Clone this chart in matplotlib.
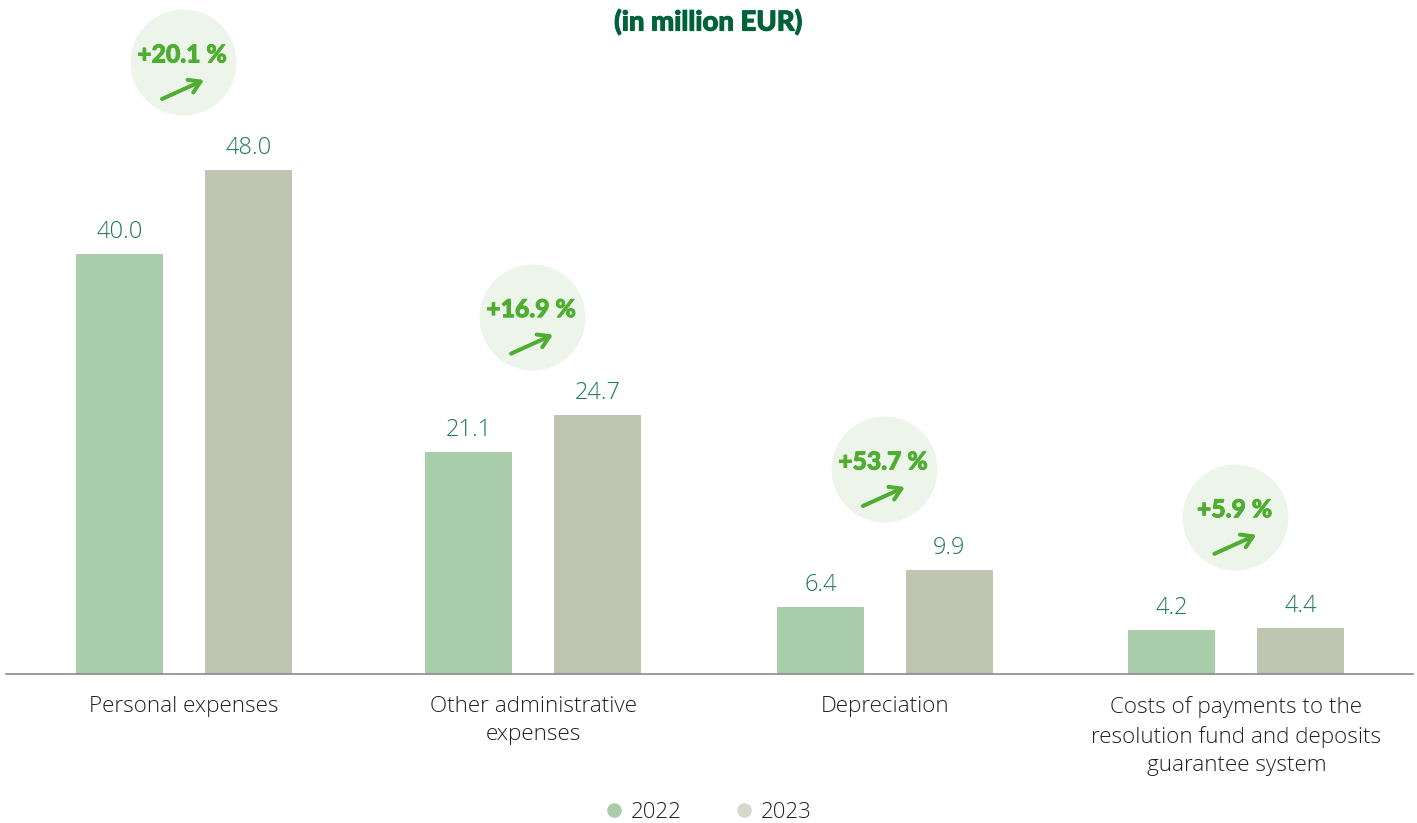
import matplotlib
matplotlib.use("Agg")
import matplotlib.pyplot as plt
import matplotlib.patheffects as pe
from matplotlib.lines import Line2D

categories = [
    "Personal expenses",
    "Other administrative\nexpenses",
    "Depreciation",
    "Costs of payments to the\nresolution fund and deposits\nguarantee system",
]
values_2022 = [40.0, 21.1, 6.4, 4.2]
values_2023 = [48.0, 24.7, 9.9, 4.4]
changes = ["+20.1 %", "+16.9 %", "+53.7 %", "+5.9 %"]
series_names = ["2022", "2023"]

# Group centres along the category axis
group_pos = [0.0, 0.995, 1.998, 3.0]
# Badge height above the taller bar of each group, in pixels
badge_lift = [108, 98, 101, 111]

W, H = 1417, 823
DPI = 100
BASE_Y = 674
PX_PER_UNIT = 10.5
PX_PER_GROUP = 350.8
FIRST_GROUP = 184
LEFT, RIGHT = 6, 1413

C_2022 = "#A9CCAB"
C_2023 = "#C0C4B2"
C_2023_KEY = "#D5D9CC"
C_VALUE = "#1F7A50"
C_TITLE = "#00623A"
C_BADGE = "#EDF5EB"
C_ACCENT = "#4FAE32"
C_TEXT = "#222222"

LIGHT = ["Open Sans", "DejaVu Sans"]
HEAVY = ["Lato", "DejaVu Sans"]

fig = plt.figure(figsize=(W / DPI, H / DPI), dpi=DPI, facecolor="white")
ax = fig.add_axes([LEFT / W, 1 - BASE_Y / H, (RIGHT - LEFT) / W, BASE_Y / H])
ax.set_xlim((LEFT - FIRST_GROUP) / PX_PER_GROUP, (RIGHT - FIRST_GROUP) / PX_PER_GROUP)
ax.set_ylim(0, BASE_Y / PX_PER_UNIT)
ax.patch.set_alpha(0)

offset = 64.5 / PX_PER_GROUP
bar_w = 87 / PX_PER_GROUP

ax.bar([x - offset for x in group_pos], values_2022, bar_w, color=C_2022)
ax.bar([x + offset for x in group_pos], values_2023, bar_w, color=C_2023)

for x, a, b in zip(group_pos, values_2022, values_2023):
    for bx, v in ((x - offset, a), (x + offset, b)):
        ax.annotate(f"{v:.1f}", xy=(bx, v), xytext=(0, 10), textcoords="offset pixels",
                    ha="center", va="bottom", fontsize=17, color=C_VALUE,
                    family=LIGHT, fontweight=300)

# Change badges: pale disc, bold percentage and a rising arrow
for x, a, b, label, lift in zip(group_pos, values_2022, values_2023, changes, badge_lift):
    cy = max(a, b) + lift / PX_PER_UNIT
    cx_px, cy_px = ax.transData.transform((x, cy))
    cx_px -= 1
    ax.scatter([cx_px], [cy_px], s=(106 * 72 / DPI) ** 2, color=C_BADGE, linewidths=0,
               zorder=2, clip_on=False, transform=None)
    badge_text = ax.annotate(label, xy=(x, cy), xytext=(-2, 7), textcoords="offset pixels",
                             ha="center", va="center", fontsize=17.8, fontweight="black",
                             color=C_ACCENT, family=HEAVY, zorder=3)
    badge_text.set_path_effects([pe.withStroke(linewidth=0.7, foreground=C_ACCENT)])
    ax.annotate("", xy=(cx_px + 21, cy_px - 18), xytext=(cx_px - 21, cy_px - 37),
                xycoords="figure pixels", textcoords="figure pixels", zorder=3,
                arrowprops=dict(arrowstyle="->,head_length=0.8,head_width=0.5", color=C_ACCENT,
                                lw=2.9, shrinkA=0, shrinkB=0, capstyle="round", joinstyle="round"))

for side in ("top", "left", "right"):
    ax.spines[side].set_visible(False)
ax.spines["bottom"].set_color("#8A8A8A")
ax.spines["bottom"].set_linewidth(1.2)
ax.set_yticks([])
ax.set_xticks(group_pos)
ax.set_xticklabels(categories, fontsize=16.2, color=C_TEXT, family=LIGHT, fontweight=300, linespacing=1.44)
ax.tick_params(axis="x", length=0, pad=16)

title = fig.text(708.5 / W, 1 - 22 / H, "(in million EUR)", ha="center", va="center",
                 fontsize=19.8, fontweight="black", color=C_TITLE, family=HEAVY)
title.set_path_effects([pe.withStroke(linewidth=0.7, foreground=C_TITLE)])

handles = [
    Line2D([], [], ls="", marker="o", ms=10.5, mew=0, color=C_2022),
    Line2D([], [], ls="", marker="o", ms=10.5, mew=0, color=C_2023_KEY),
]
fig.legend(handles, series_names, loc="center", bbox_to_anchor=(706 / W, 1 - 812 / H), ncol=2,
           frameon=False, handletextpad=0.15, columnspacing=2.2, handlelength=1.2,
           prop={"family": LIGHT, "size": 16, "weight": 300}, labelcolor=C_TEXT)

fig.savefig("out.png", dpi=DPI)
